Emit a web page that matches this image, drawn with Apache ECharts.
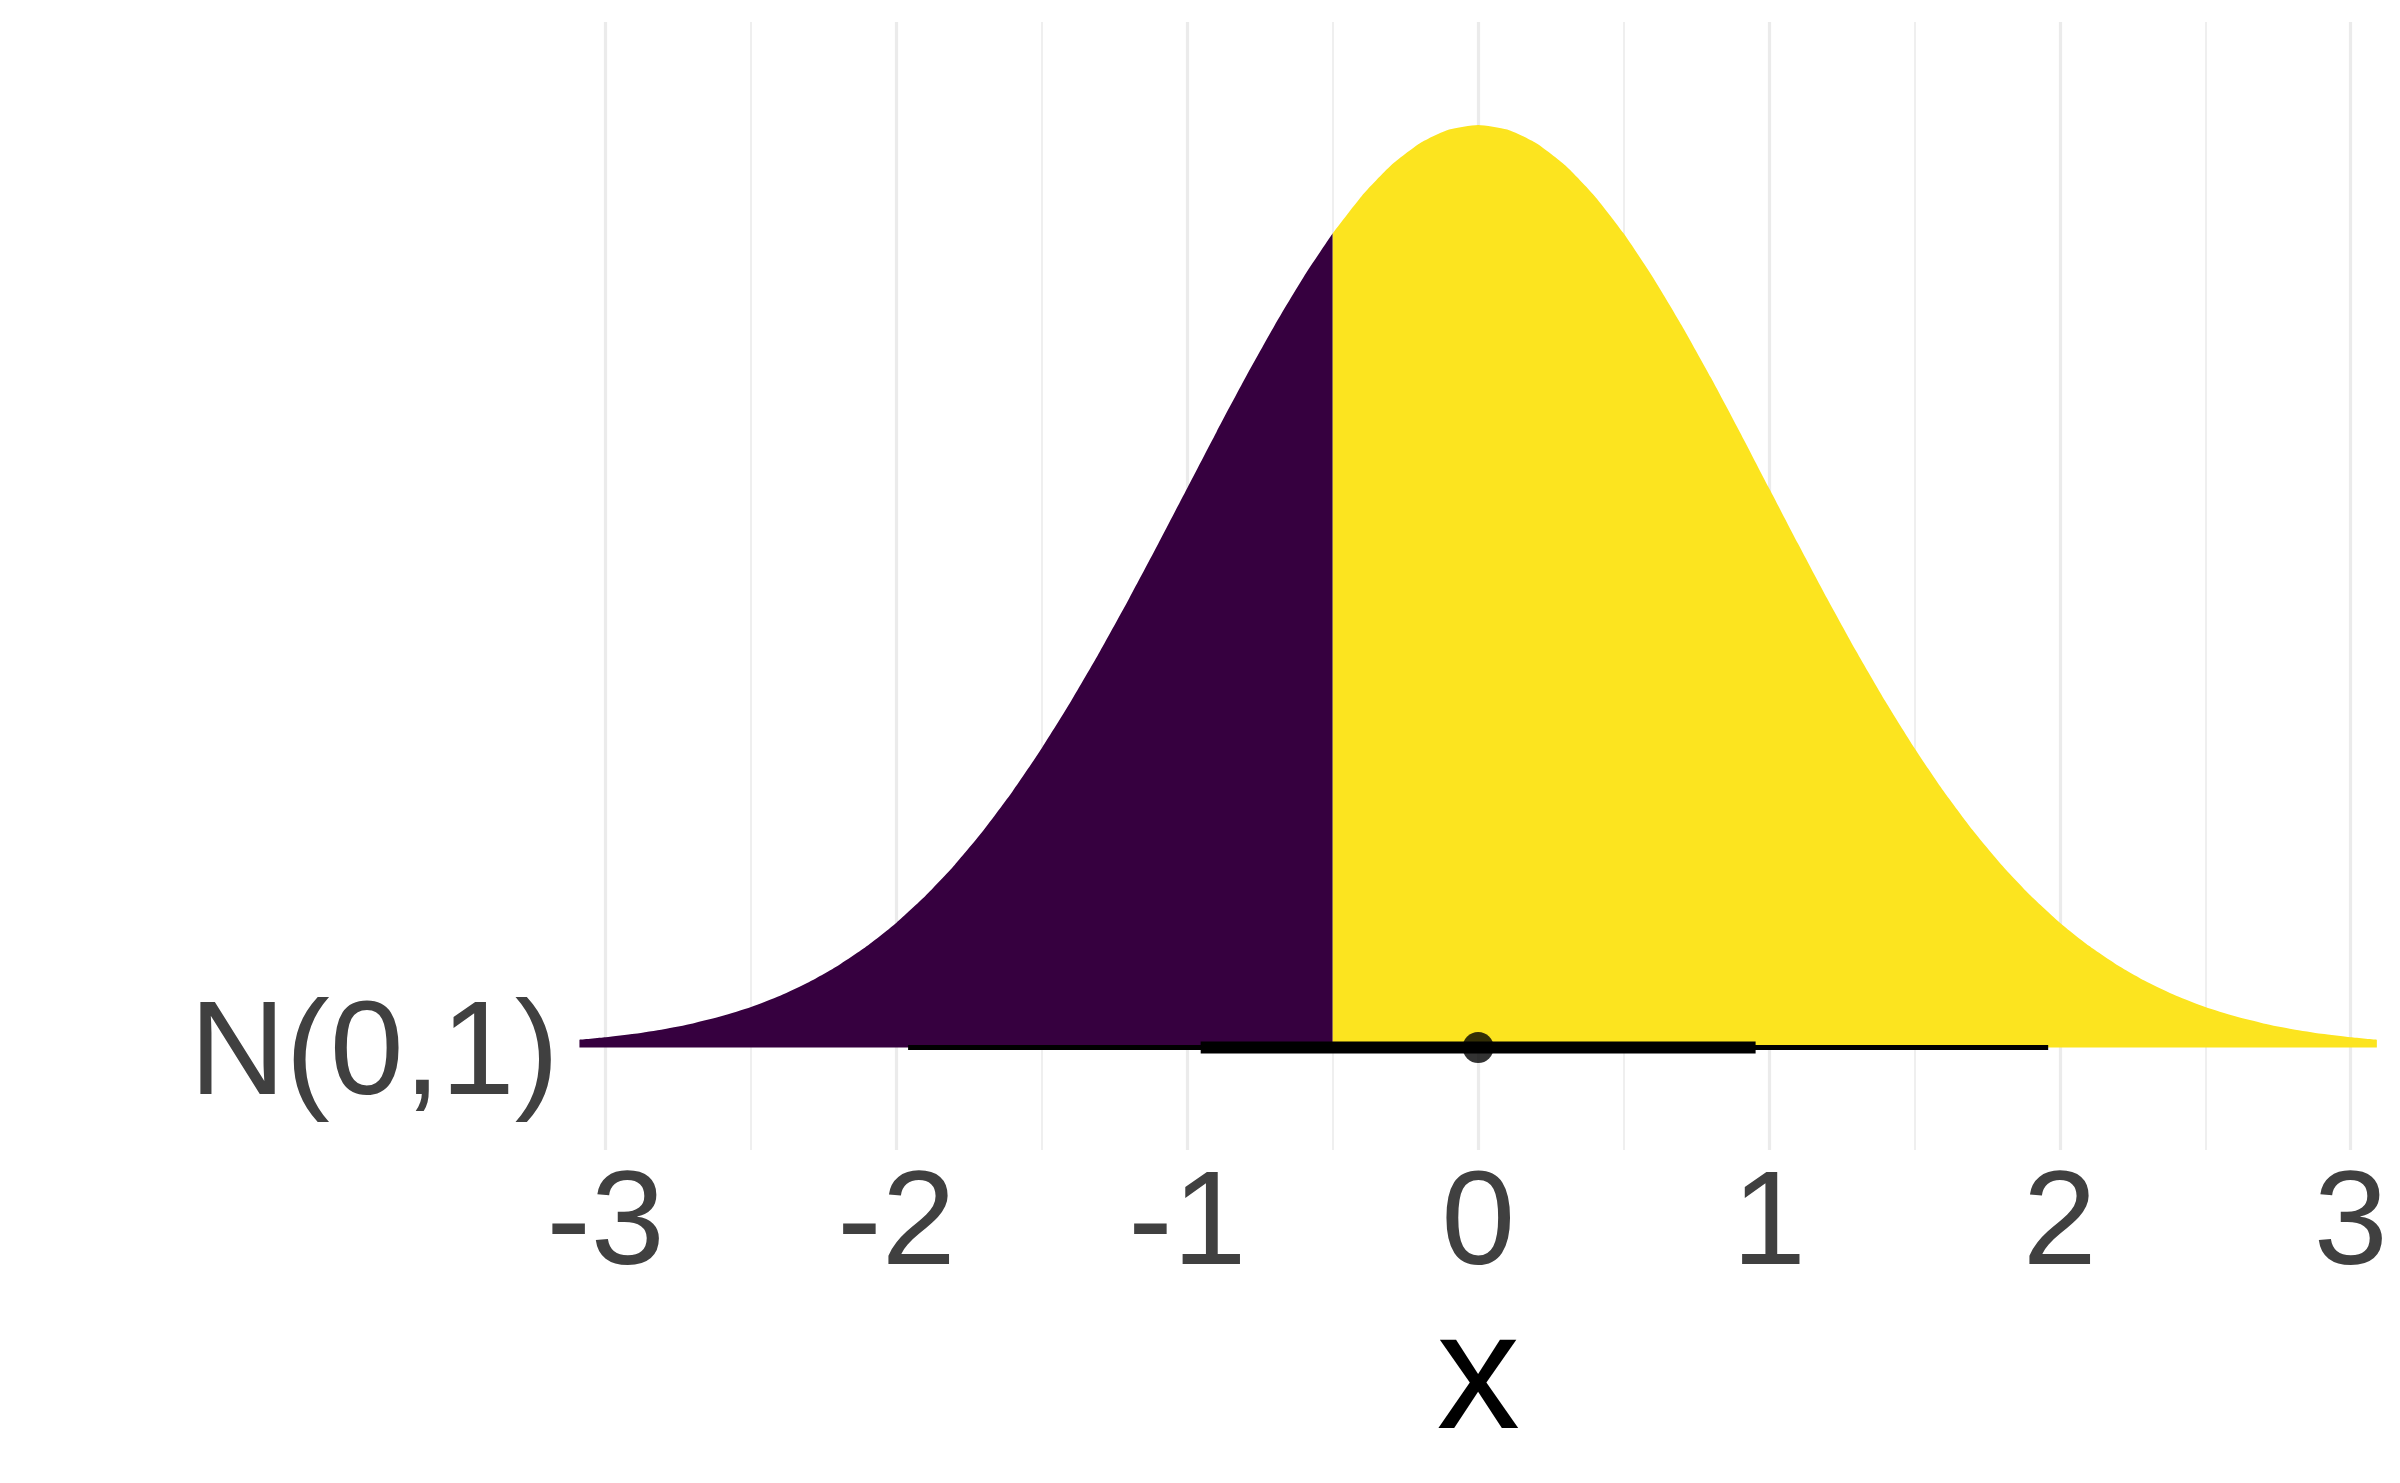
<!DOCTYPE html>
<html>
<head>
<meta charset="utf-8">
<script src="https://cdn.jsdelivr.net/npm/echarts@6/dist/echarts.min.js"></script>
<style>
html,body{margin:0;padding:0;background:#fff;}
#chart{width:2400px;height:1483px;}
</style>
</head>
<body>
<div id="chart"></div>
<script>
// ---- data ----
const categories = ['N(0,1)'];
const xGrid = [-3.09,-3.0,-2.9,-2.8,-2.7,-2.6,-2.5,-2.4,-2.3,-2.2,-2.1,-2.0,-1.9,-1.8,-1.7,-1.6,-1.5,-1.4,-1.3,-1.2,-1.1,-1.0,-0.9,-0.8,-0.7,-0.6,-0.5,-0.4,-0.3,-0.2,-0.1,0.0,0.1,0.2,0.3,0.4,0.5,0.6,0.7,0.8,0.9,1.0,1.1,1.2,1.3,1.4,1.5,1.6,1.7,1.8,1.9,2.0,2.1,2.2,2.3,2.4,2.5,2.6,2.7,2.8,2.9,3.0,3.09];
const density = [0.00337,0.00443,0.00595,0.00792,0.01042,0.01358,0.01753,0.02239,0.02833,0.03547,0.04398,0.05399,0.06562,0.07895,0.09405,0.11092,0.12952,0.14973,0.17137,0.19419,0.21785,0.24197,0.26609,0.28969,0.31225,0.33322,0.35207,0.36827,0.38139,0.39104,0.39695,0.39894,0.39695,0.39104,0.38139,0.36827,0.35207,0.33322,0.31225,0.28969,0.26609,0.24197,0.21785,0.19419,0.17137,0.14973,0.12952,0.11092,0.09405,0.07895,0.06562,0.05399,0.04398,0.03547,0.02833,0.02239,0.01753,0.01358,0.01042,0.00792,0.00595,0.00443,0.00337];
const splitAt = -0.5;
const thinInterval = [-1.96, 1.96];
const thickInterval = [-0.954, 0.954];
const pointValue = 0;
const majorTicks = [-3,-2,-1,0,1,2,3];
const minorTicks = [-2.5,-1.5,-0.5,0.5,1.5,2.5];
const xTitle = 'x';

// ---- build ----
const pts = xGrid.map((x,i)=>[x, density[i]]);
const leftPart = pts.filter(p=>p[0] <= splitAt);
const rightPart = pts.filter(p=>p[0] >= splitAt);

const FONT = '"Liberation Sans", Arial, Helvetica, sans-serif';
const chart = echarts.init(document.getElementById('chart'), null, {renderer:'canvas'});
chart.setOption({
  animation:false,
  backgroundColor:'#ffffff',
  grid:{left:562, right:5.7, top:22, bottom:333, containLabel:false},
  xAxis:{
    type:'value', min:-3.15, max:3.15,
    axisLine:{show:false}, axisTick:{show:false}, splitLine:{show:false},
    axisLabel:{customValues:majorTicks, fontSize:133, color:'#404040', fontFamily:FONT, margin:11,
      formatter:v=>String(v)},
    name:xTitle, nameLocation:'middle', nameGap:140,
    nameTextStyle:{fontSize:167, color:'#000000', fontFamily:FONT}
  },
  yAxis:{
    type:'value', min:-0.04433, max:0.44348,
    axisLine:{show:false}, axisTick:{show:false}, splitLine:{show:false},
    axisLabel:{customValues:[0], fontSize:133, color:'#404040', fontFamily:FONT, margin:3,
      verticalAlign:'top', lineHeight:20, formatter:()=>categories[0]}
  },
  series:[
    {type:'line', data:[], z:1, silent:true,
     markLine:{z:1, silent:true, symbol:['none','none'], label:{show:false},
       data:[
         ...majorTicks.map(v=>({xAxis:v, lineStyle:{color:'#EBEBEB', width:3.2, type:'solid'}})),
         ...minorTicks.map(v=>({xAxis:v, lineStyle:{color:'#EBEBEB', width:1.6, type:'solid'}}))
       ]}},
    {type:'line', data:leftPart, z:3, showSymbol:false, smooth:0.2,
     lineStyle:{width:0}, areaStyle:{color:'#36003F', opacity:1, origin:0}},
    {type:'line', data:rightPart, z:3, showSymbol:false, smooth:0.2,
     lineStyle:{width:0}, areaStyle:{color:'#FCE41F', opacity:1, origin:0}},
    {type:'line', data:[[thinInterval[0],0],[thinInterval[1],0]], z:5, showSymbol:false,
     lineStyle:{color:'#000', width:5, cap:'butt'}},
    {type:'line', data:[[thickInterval[0],0],[thickInterval[1],0]], z:6, showSymbol:false,
     lineStyle:{color:'#000', width:12, cap:'butt'}},
    {type:'scatter', data:[[pointValue,0]], z:7, symbol:'circle', symbolSize:31,
     itemStyle:{color:'#000'}}
  ]
});
</script>
</body>
</html>
